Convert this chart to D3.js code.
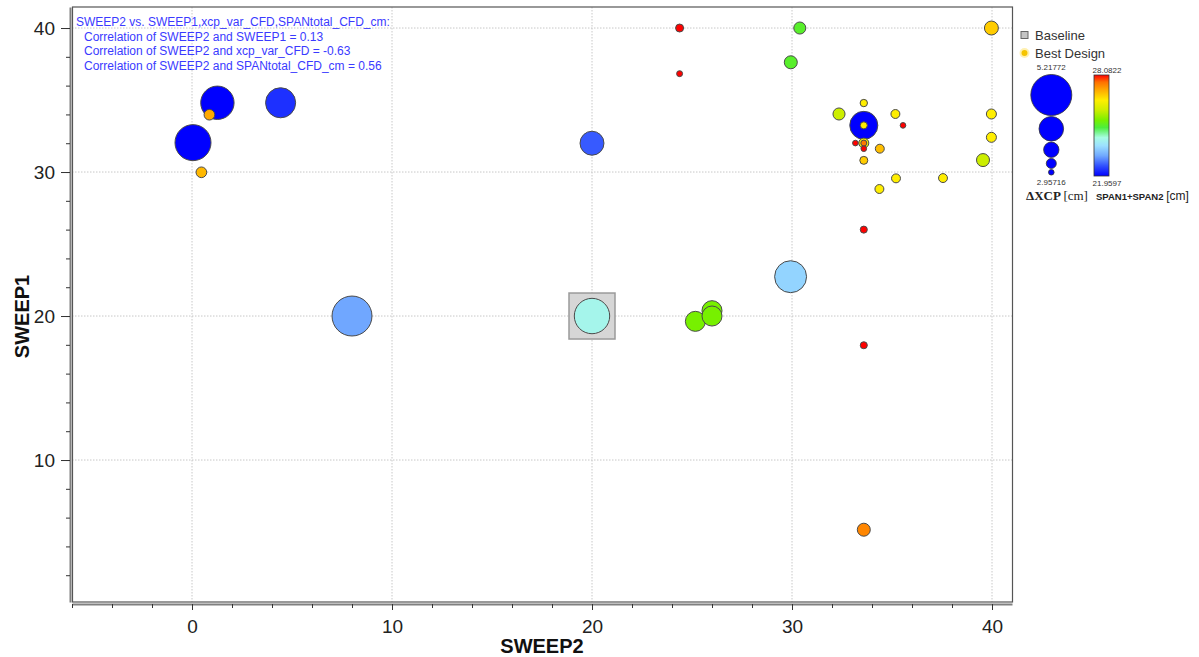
<!DOCTYPE html>
<html>
<head>
<meta charset="utf-8">
<script src="https://cdn.jsdelivr.net/npm/d3@7"></script>
<style>
  body { margin: 0; background: #fff; }
  svg { display: block; font-family: Arial, 'Liberation Sans', sans-serif; }
  .grid line { stroke: #c8c8c8; stroke-dasharray: 1.5,1.5; }
  .axis path { stroke: #808080; stroke-width: 2; }
  .axis line { stroke: #333; }
  .axis text { font-size: 19px; fill: #222; }
</style>
</head>
<body>
<script>
(function() {
  'use strict';

  // SWEEP2 (x), SWEEP1 (y), xcp_var_CFD (bubble size), SPANtotal_CFD_cm (colour)
  const sweep2 = [0.05, 1.27, 4.43, 0.87, 0.47, 8.0, 20.0, 20.0, 25.17, 26.0, 26.0, 29.93,
    24.38, 24.38, 30.39, 29.94, 39.97, 33.59, 33.59, 33.59, 32.35, 35.17, 35.55, 33.17,
    33.59, 33.59, 33.59, 34.39, 33.59, 35.2, 34.37, 37.55, 39.97, 39.97, 39.55, 33.59,
    33.59, 33.59];
  const sweep1 = [32.04, 34.81, 34.81, 33.98, 29.98, 20.0, 32.0, 20.0, 19.63, 20.37, 20.0, 22.73,
    40.0, 36.83, 40.0, 37.62, 40.0, 33.24, 33.24, 34.79, 34.03, 34.03, 33.24, 32.01,
    32.01, 32.01, 31.62, 31.62, 30.81, 29.56, 28.82, 29.58, 34.03, 32.41, 30.83, 26.0,
    17.97, 5.16];
  const xcp = [4.90, 4.73, 4.52, 3.28, 3.28, 5.15, 4.13, 4.86, 3.88, 3.88, 3.88, 4.64,
    3.11, 2.98, 3.37, 3.43, 3.49, 4.39, 3.05, 3.07, 3.37, 3.17, 2.96, 2.96,
    3.24, 2.98, 2.96, 3.17, 3.11, 3.17, 3.17, 3.17, 3.24, 3.24, 3.43, 3.05,
    3.05, 3.43];
  const span = [21.96, 21.96, 22.33, 27.17, 27.04, 23.18, 22.64, 24.16, 25.33, 25.33, 25.33, 23.67,
    28.08, 28.08, 25.02, 25.02, 26.86, 21.96, 26.55, 26.55, 25.94, 26.55, 28.08, 28.08,
    26.37, 27.59, 28.08, 26.98, 26.86, 26.55, 26.55, 26.55, 26.55, 26.55, 25.94, 28.08,
    28.08, 27.47];
  const baselineIndex = 7;

  const xMajorTicks = [0, 10, 20, 30, 40];
  const xMinorTicks = [-6, -4, -2, 0, 2, 4, 6, 8, 10, 12, 14, 16, 18, 20, 22, 24, 26, 28, 30, 32, 34, 36, 38, 40];
  const yMajorTicks = [10, 20, 30, 40];
  const yMinorTicks = [2, 4, 6, 8, 10, 12, 14, 16, 18, 20, 22, 24, 26, 28, 30, 32, 34, 36, 38, 40];

  const xcpRange = [2.95716, 5.21772];
  const spanRange = [21.9597, 28.0822];
  const sizeLegendValues = [5.21772, 4.17, 3.58, 3.24, 2.95716];

  const titleLines = [
    'SWEEP2 vs. SWEEP1,xcp_var_CFD,SPANtotal_CFD_cm:',
    'Correlation of SWEEP2 and SWEEP1 = 0.13',
    'Correlation of SWEEP2 and xcp_var_CFD = -0.63',
    'Correlation of SWEEP2 and SPANtotal_CFD_cm = 0.56'
  ];

  const w = 1199;
  const h = 657;
  const left = 72, right = 1012, top = 7, bottom = 602;

  const xScale = d3.scaleLinear().domain([-6, 41]).range([left, right]);
  const yScale = d3.scaleLinear().domain([0.14, 41.46]).range([bottom, top]);
  const rScale = d3.scaleLinear().domain(xcpRange).range([2.8, 20.5]);

  // rainbow colour map, blue (low) to red (high)
  const stopT = [0, 0.1, 0.2, 0.3, 0.38, 0.48, 0.55, 0.65, 0.75, 0.85, 0.93, 1];
  const stopC = ['#0000ff', '#3050ff', '#70a8ff', '#9ce0ff', '#a8fce4', '#4cee3c', '#77f000',
    '#ccee00', '#ffee00', '#ffaa00', '#ff7000', '#ff0000'];
  const colorScale = d3.scaleLinear()
    .domain(stopT.map((t) => spanRange[0] + t * (spanRange[1] - spanRange[0])))
    .range(stopC)
    .interpolate(d3.interpolateRgb)
    .clamp(true);

  const svg = d3.select('body').append('svg')
    .attr('width', w)
    .attr('height', h);

  // grid
  const grid = svg.append('g').attr('class', 'grid');
  grid.selectAll('.gx').data(xMajorTicks).enter().append('line')
    .attr('x1', (d) => xScale(d)).attr('x2', (d) => xScale(d))
    .attr('y1', top).attr('y2', bottom);
  grid.selectAll('.gy').data(yMajorTicks).enter().append('line')
    .attr('x1', left).attr('x2', right)
    .attr('y1', (d) => yScale(d)).attr('y2', (d) => yScale(d));

  // frame
  svg.append('rect')
    .attr('x', left + 0.5).attr('y', top)
    .attr('width', right - left).attr('height', bottom - top)
    .attr('fill', 'none')
    .attr('stroke', '#555')
    .attr('stroke-width', 1.2);

  // axes
  const xAxisY = bottom + 2;
  svg.append('g').attr('class', 'axis')
    .attr('transform', 'translate(0,' + xAxisY + ')')
    .call(d3.axisBottom(xScale).tickValues(xMinorTicks).tickSize(4).tickSizeOuter(0).tickFormat(''));
  svg.append('g').attr('class', 'axis')
    .attr('transform', 'translate(0,' + xAxisY + ')')
    .call(d3.axisBottom(xScale).tickValues(xMajorTicks).tickSize(6).tickPadding(10).tickSizeOuter(0))
    .call((g) => g.select('.domain').remove());

  const yAxisX = left - 2;
  svg.append('g').attr('class', 'axis')
    .attr('transform', 'translate(' + yAxisX + ',0)')
    .call(d3.axisLeft(yScale).tickValues(yMinorTicks).tickSize(4).tickSizeOuter(0).tickFormat(''));
  svg.append('g').attr('class', 'axis')
    .attr('transform', 'translate(' + yAxisX + ',0)')
    .call(d3.axisLeft(yScale).tickValues(yMajorTicks).tickSize(9).tickPadding(6).tickSizeOuter(0))
    .call((g) => g.select('.domain').remove());

  svg.append('text')
    .attr('x', (left + right) / 2).attr('y', 653)
    .attr('text-anchor', 'middle')
    .style('font-size', '20px').style('font-weight', 'bold').style('fill', '#111')
    .text('SWEEP2');
  svg.append('text')
    .attr('transform', 'translate(29,' + ((top + bottom) / 2 + 12) + ') rotate(-90)')
    .attr('text-anchor', 'middle')
    .style('font-size', '20px').style('font-weight', 'bold').style('fill', '#111')
    .text('SWEEP1');

  // points
  const points = sweep2.map((x, i) => ({x: x, y: sweep1[i], s: xcp[i], c: span[i], i: i}));
  const base = points[baselineIndex];
  const bs = 46;
  svg.append('rect')
    .attr('x', xScale(base.x) - bs / 2).attr('y', yScale(base.y) - bs / 2)
    .attr('width', bs).attr('height', bs)
    .attr('fill', '#d6d6d6').attr('stroke', '#9a9a9a').attr('stroke-width', 1.5);

  const sorted = points.slice().sort((a, b) => (b.s - a.s) || (a.i - b.i));
  svg.append('g').selectAll('circle')
    .data(sorted)
    .enter()
    .append('circle')
    .attr('cx', (d) => xScale(d.x))
    .attr('cy', (d) => yScale(d.y))
    .attr('r', (d) => rScale(d.s))
    .attr('fill', (d) => colorScale(d.c))
    .attr('stroke', '#4a4a4a')
    .attr('stroke-width', 1);

  // correlation text
  svg.append('g').selectAll('text')
    .data(titleLines)
    .enter()
    .append('text')
    .attr('x', (d, i) => i === 0 ? 76 : 84)
    .attr('y', (d, i) => 26 + i * 14.7)
    .style('font-size', '12px')
    .style('fill', '#3a3aff')
    .text((d) => d);

  // legend
  const lg = svg.append('g').style('font-size', '13px').style('fill', '#333');
  lg.append('rect').attr('x', 1021).attr('y', 31.5).attr('width', 7).attr('height', 7)
    .attr('fill', '#c4c4c4').attr('stroke', '#666');
  lg.append('text').attr('x', 1035).attr('y', 40).text('Baseline');
  lg.append('circle').attr('cx', 1024.5).attr('cy', 53).attr('r', 5).attr('fill', '#fff0b0');
  lg.append('circle').attr('cx', 1024.5).attr('cy', 53).attr('r', 3).attr('fill', '#f5c400');
  lg.append('text').attr('x', 1035).attr('y', 58).text('Best Design');

  // size legend
  const sl = svg.append('g');
  const cx = 1051.3;
  let yy = 74.5;
  const legendCircles = sizeLegendValues.map((v) => {
    const r = rScale(v);
    const c = {cy: yy + r, r: r};
    yy += 2 * r + 1;
    return c;
  });
  sl.selectAll('circle').data(legendCircles).enter().append('circle')
    .attr('cx', cx).attr('cy', (d) => d.cy).attr('r', (d) => d.r)
    .attr('fill', '#0000ff').attr('stroke', '#333').attr('stroke-width', 0.8);
  sl.append('text').attr('x', cx).attr('y', 70).attr('text-anchor', 'middle')
    .style('font-size', '8px').style('fill', '#333').text(xcpRange[1].toString());
  sl.append('text').attr('x', cx).attr('y', 185).attr('text-anchor', 'middle')
    .style('font-size', '8px').style('fill', '#333').text(xcpRange[0].toString());
  const dl = sl.append('text').attr('x', 1026).attr('y', 200)
    .style('font-family', "'Liberation Serif', 'DejaVu Serif', serif").style('fill', '#222');
  dl.append('tspan').style('font-size', '13px').style('font-weight', 'bold').text('ΔXCP ');
  dl.append('tspan').style('font-size', '13px').text('[cm]');

  // colour bar
  const defs = svg.append('defs');
  const grad = defs.append('linearGradient').attr('id', 'cbar')
    .attr('x1', 0).attr('y1', 1).attr('x2', 0).attr('y2', 0);
  grad.selectAll('stop').data(stopT).enter().append('stop')
    .attr('offset', (d) => d)
    .attr('stop-color', (d, i) => stopC[i]);
  svg.append('rect').attr('x', 1094).attr('y', 75).attr('width', 15).attr('height', 101)
    .attr('fill', 'url(#cbar)').attr('stroke', '#333').attr('stroke-width', 0.8);
  svg.append('text').attr('x', 1107).attr('y', 73).attr('text-anchor', 'middle')
    .style('font-size', '8px').style('fill', '#333').text(spanRange[1].toString());
  svg.append('text').attr('x', 1107).attr('y', 186).attr('text-anchor', 'middle')
    .style('font-size', '8px').style('fill', '#333').text(spanRange[0].toString());
  const sp = svg.append('text').attr('x', 1096).attr('y', 200).style('fill', '#222');
  sp.append('tspan').style('font-size', '9.5px').style('font-weight', 'bold').text('SPAN1+SPAN2 ');
  sp.append('tspan').style('font-size', '12px').text('[cm]');
}());
</script>
</body>
</html>
